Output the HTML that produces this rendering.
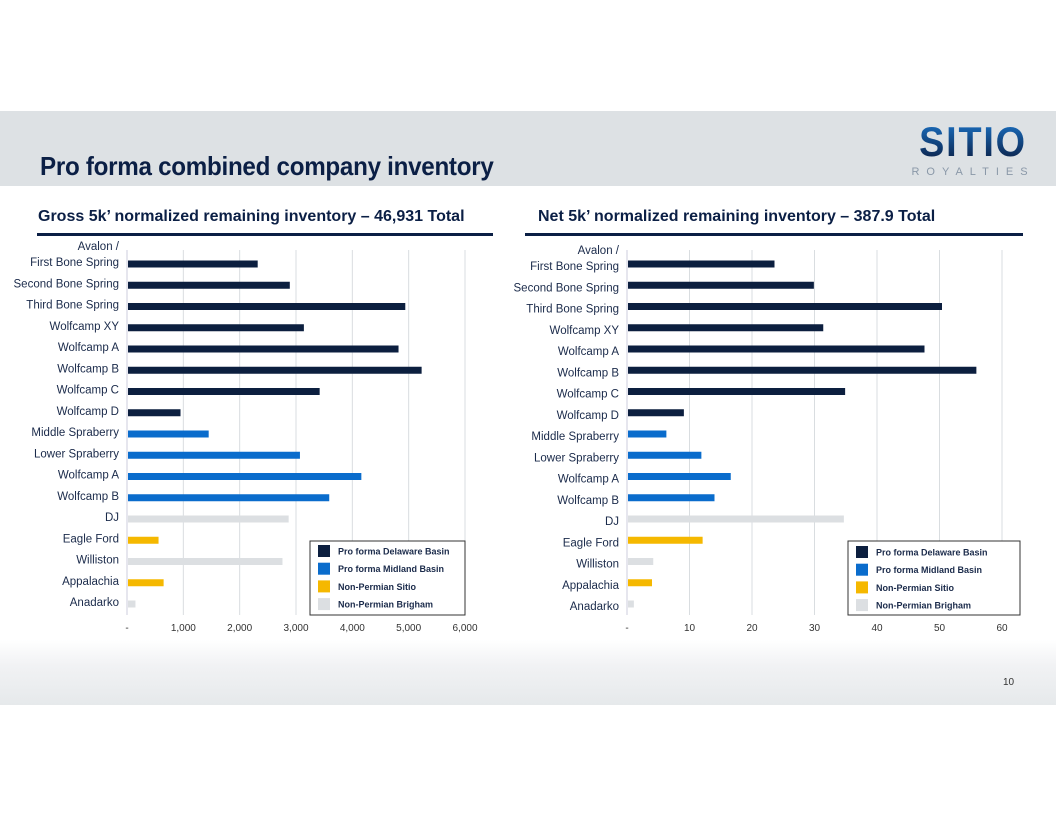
<!DOCTYPE html>
<html><head><meta charset="utf-8"><style>
body{margin:0;width:1056px;height:816px;background:#fff;overflow:hidden;font-family:"Liberation Sans",sans-serif;position:relative}
.abs{position:absolute}
</style></head><body>
<div class="abs" style="left:0;top:111px;width:1056px;height:75px;background:#dde1e4"></div>
<div class="abs" style="left:40px;top:151px;font-size:26px;font-weight:bold;color:#0b1f45;letter-spacing:-0.3px;transform:scaleX(0.93);transform-origin:left top;white-space:nowrap">Pro forma combined company inventory</div>
<div class="abs" style="left:908px;top:122px;width:130px;text-align:center">
 <div style="font-size:42px;font-weight:bold;letter-spacing:2px;line-height:40px;background:linear-gradient(#1a6fc0,#0b1f45);-webkit-background-clip:text;color:transparent;transform:scaleX(0.9)">SITIO</div>
 <div style="font-size:11px;color:#8a98a8;letter-spacing:7px;margin-top:4px">ROYALTIES</div>
</div>
<div class="abs" style="left:38px;top:208px;font-size:16px;font-weight:bold;color:#0b1f45">Gross 5k’ normalized remaining inventory – 46,931 Total</div>
<div class="abs" style="left:37px;top:233px;width:456px;height:3px;background:#0b1f45"></div>
<div class="abs" style="left:538px;top:208px;font-size:16px;font-weight:bold;color:#0b1f45">Net 5k’ normalized remaining inventory – 387.9 Total</div>
<div class="abs" style="left:525px;top:233px;width:498px;height:3px;background:#0b1f45"></div>
<div class="abs" style="left:0;top:640px;width:1056px;height:65px;background:linear-gradient(180deg,#fff 0%,#f1f2f4 40%,#e6e9eb 100%)"></div>
<div class="abs" style="left:1003px;top:677px;font-size:10px;color:#333">10</div>
<svg id="chart" class="abs" style="left:0;top:0" width="1056" height="816"></svg>
<script>
const categories=["Avalon /|First Bone Spring","Second Bone Spring","Third Bone Spring","Wolfcamp XY","Wolfcamp A","Wolfcamp B","Wolfcamp C","Wolfcamp D","Middle Spraberry","Lower Spraberry","Wolfcamp A","Wolfcamp B","DJ","Eagle Ford","Williston","Appalachia","Anadarko"];
const groups=[0,0,0,0,0,0,0,0,1,1,1,1,3,2,3,2,3];
const grossValues=[2320,2890,4940,3140,4820,5230,3420,950,1450,3070,4160,3590,2870,560,2760,650,150];
const netValues=[23.6,29.9,50.4,31.4,47.6,55.9,34.9,9.1,6.3,11.9,16.6,14.0,34.7,12.1,4.2,4.0,1.1];
const grossTicks=[0,1000,2000,3000,4000,5000,6000];
const grossTickLabels=["-","1,000","2,000","3,000","4,000","5,000","6,000"];
const netTicks=[0,10,20,30,40,50,60];
const netTickLabels=["-","10","20","30","40","50","60"];
const legendLabels=["Pro forma Delaware Basin","Pro forma Midland Basin","Non-Permian Sitio","Non-Permian Brigham"];
const colors=["#0c1f3f","#0a6ccc","#f5b800","#dcdfe2"];
const svg=document.getElementById('chart');const NS="http://www.w3.org/2000/svg";
function mk(t,a,p){const e=document.createElementNS(NS,t);for(const k in a)e.setAttribute(k,a[k]);(p||svg).appendChild(e);return e;}
function draw(cfg){
 const x=v=>cfg.x0+(v-cfg.min)/(cfg.max-cfg.min)*(cfg.x1-cfg.x0);
 const y=i=>264+i*21.25;
 const g=mk('g',{});
 cfg.ticks.forEach((t,i)=>{
  if(i>0){const l=mk('line',{x1:x(t),x2:x(t),y1:250,y2:615,stroke:'#d9dde0','stroke-width':1},g);}
  const tx=mk('text',{x:x(t),y:631,'text-anchor':'middle','font-size':10,fill:'#333'},g);tx.textContent=cfg.tickLabels[i];
  
 });
 const ax=mk('line',{x1:cfg.x0,x2:cfg.x0,y1:250,y2:615,stroke:'#ccd',"stroke-width":1},g);
 
 categories.forEach((c,i)=>{
  const r=mk('rect',{x:cfg.x0+1,y:y(i)-3.5,width:Math.max(0,x(cfg.values[i])-cfg.x0-1),height:7,fill:colors[groups[i]]},g);
  
  const parts=c.split('|');
  parts.forEach((p,j)=>{
   const t=mk('text',{x:cfg.x0-8,y:y(i)+4+cfg.dy-(parts.length-1-j)*16,'text-anchor':'end','font-size':11.5,fill:'#1a2a4a'},g);t.textContent=p;
   
  });
 });
 const lg=mk('g',{},g);
 mk('rect',{x:cfg.lx,y:541,width:cfg.lw,height:74,fill:'#fff',stroke:'#333','stroke-width':1},lg);
 legendLabels.forEach((l,i)=>{
  const yy=545+i*17.7+(cfg.dy>0?1:0);
  mk('rect',{x:cfg.lx+8,y:yy,width:12,height:12,fill:colors[i]},lg);
  const t=mk('text',{x:cfg.lx+28,y:yy+9.5,'font-size':9,'font-weight':'bold',fill:'#1a2a4a'},lg);t.textContent=l;
  
 });
}
draw({name:'gross-chart',x0:127,x1:465,min:0,max:6000,values:grossValues,ticks:grossTicks,tickLabels:grossTickLabels,dy:-2,lx:310,lw:155});
draw({name:'net-chart',x0:627,x1:1002,min:0,max:60,values:netValues,ticks:netTicks,tickLabels:netTickLabels,dy:2,lx:848,lw:172});
</script>
</body></html>
